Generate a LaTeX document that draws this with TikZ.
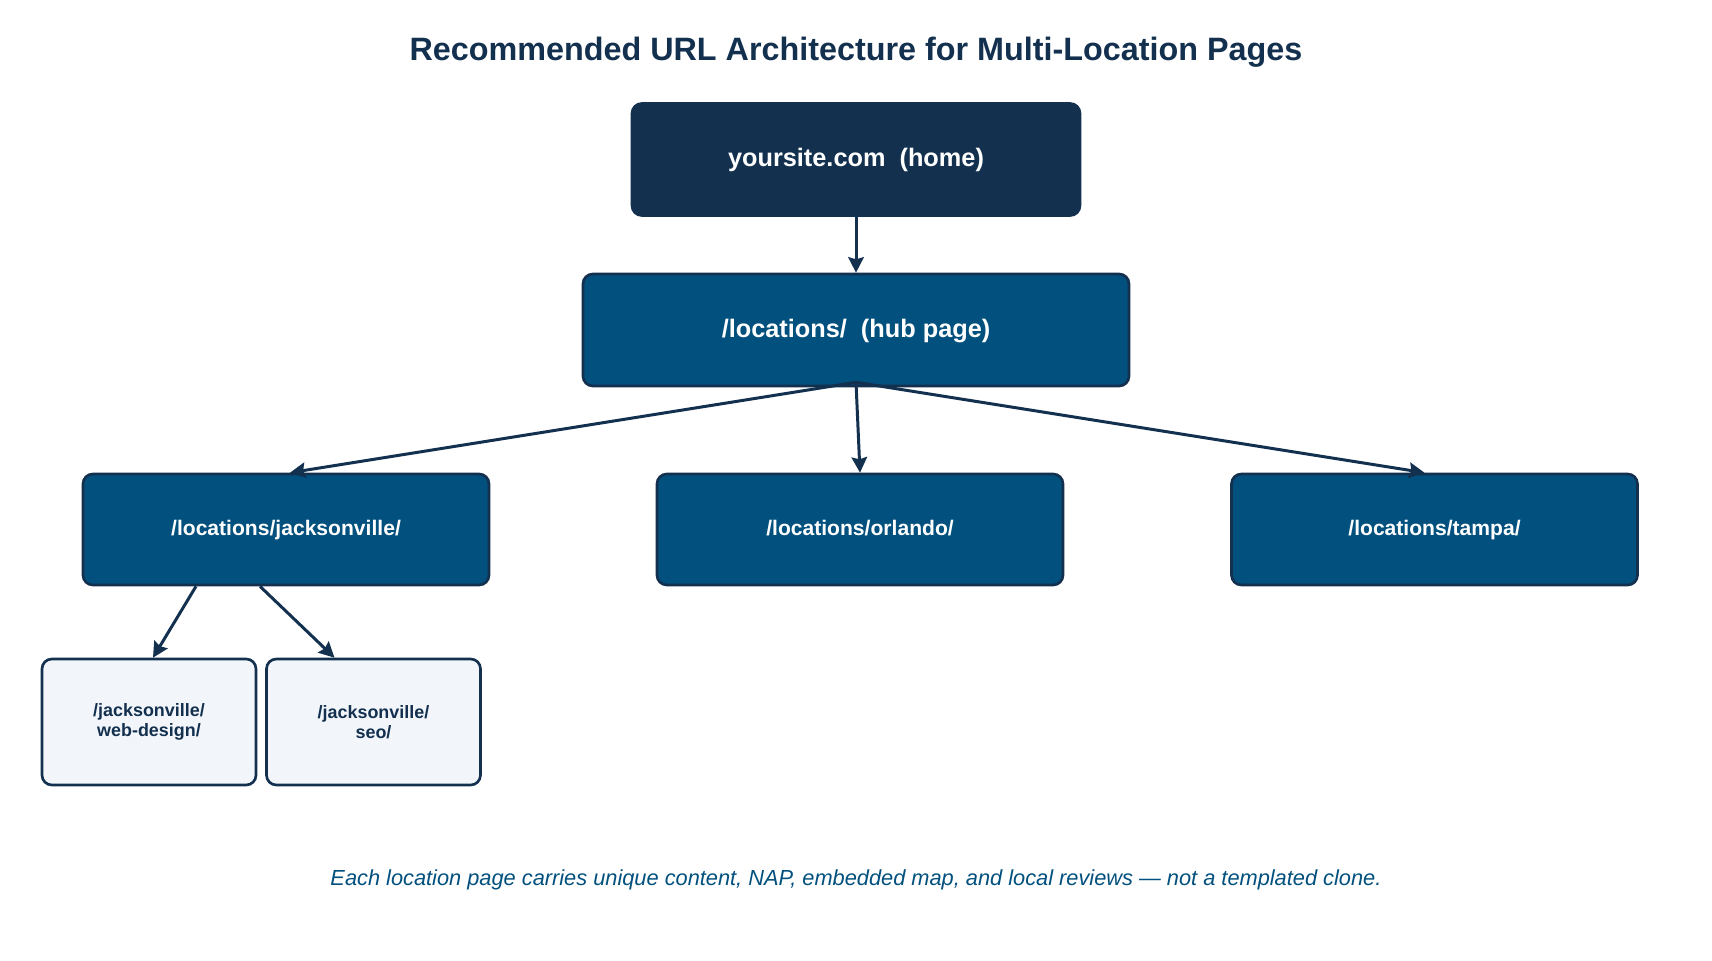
\documentclass[tikz,border=0pt]{standalone}
\usepackage{xcolor}
\usepackage{fontspec}
\setmainfont{Liberation Sans}
\usepackage{tikz}
\usetikzlibrary{arrows.meta}

\definecolor{navy}{HTML}{13304F}
\definecolor{ocean}{HTML}{02507E}
\definecolor{paleblue}{HTML}{F2F6FA}

\begin{document}
\begin{tikzpicture}[
			every node/.style={font=\bfseries},
			pagebox/.style={draw=navy, line width=0.75pt, rounded corners=2.8pt, inner sep=0pt, align=center},
			homebox/.style={pagebox, fill=navy, text=white, minimum width=4.48cm, minimum height=1.12cm, text height=0.72em, text depth=0.3em, font=\fontsize{7.2}{8.6}\selectfont\bfseries},
			hubbox/.style={pagebox, fill=ocean, text=white, minimum width=5.46cm, minimum height=1.12cm, text height=0.72em, text depth=0.3em, font=\fontsize{7.2}{8.6}\selectfont\bfseries},
			citybox/.style={pagebox, fill=ocean, text=white, minimum width=4.06cm, minimum height=1.11cm, text height=0.72em, text depth=0.38em, font=\fontsize{6.0}{7.2}\selectfont\bfseries},
			servicebox/.style={pagebox, fill=paleblue, text=navy, minimum width=2.14cm, minimum height=1.26cm, font=\fontsize{5.1}{5.6}\selectfont\bfseries},
			link/.style={draw=navy, line width=0.85pt, -{Stealth[length=4.4pt,width=4.4pt,inset=0.6pt]}},
			>=stealth
			]
			
			\useasboundingbox (0,0) rectangle (17.12,9.6);
			
			% title
			\node[text=navy, font=\fontsize{9.2}{11}\selectfont\bfseries] (title) at (8.56,9.08) {Recommended URL Architecture for Multi-Location Pages};
			
			% page tree
			\node[homebox] (home) at (8.56,8.005) {yoursite.com\ \ (home)};
			\node[hubbox] (hub) at (8.56,6.30) {/locations/\ \ (hub page)};
			\node[citybox] (jax) at (2.86,4.305) {/locations/jacksonville/};
			\node[citybox] (orl) at (8.60,4.305) {/locations/orlando/};
			\node[citybox] (tpa) at (14.345,4.305) {/locations/tampa/};
			\node[servicebox] (web) at (1.49,2.38) {/jacksonville/\\web-design/};
			\node[servicebox] (seo) at (3.735,2.38) {/jacksonville/\\seo/};
			
			% links
			\draw[link] (home.south) -- (hub.north);
			\draw[link] ([yshift=0.05cm]hub.south) -- ([xshift=0.04cm]jax.north);
			\draw[link] ([yshift=0.05cm]hub.south) -- (orl.north);
			\draw[link] ([yshift=0.05cm]hub.south) -- ([xshift=-0.1cm]tpa.north);
			\draw[link] ([xshift=-0.9cm]jax.south) -- ([xshift=0.04cm]web.north);
			\draw[link] ([xshift=-0.26cm]jax.south) -- ([xshift=-0.39cm]seo.north);
			
			% footnote
			\node[text=ocean, font=\fontsize{6.2}{7.4}\selectfont\itshape] (note) at (8.56,0.80) {Each location page carries unique content, NAP, embedded map, and local reviews — not a templated clone.};
		\end{tikzpicture}
\end{document}
